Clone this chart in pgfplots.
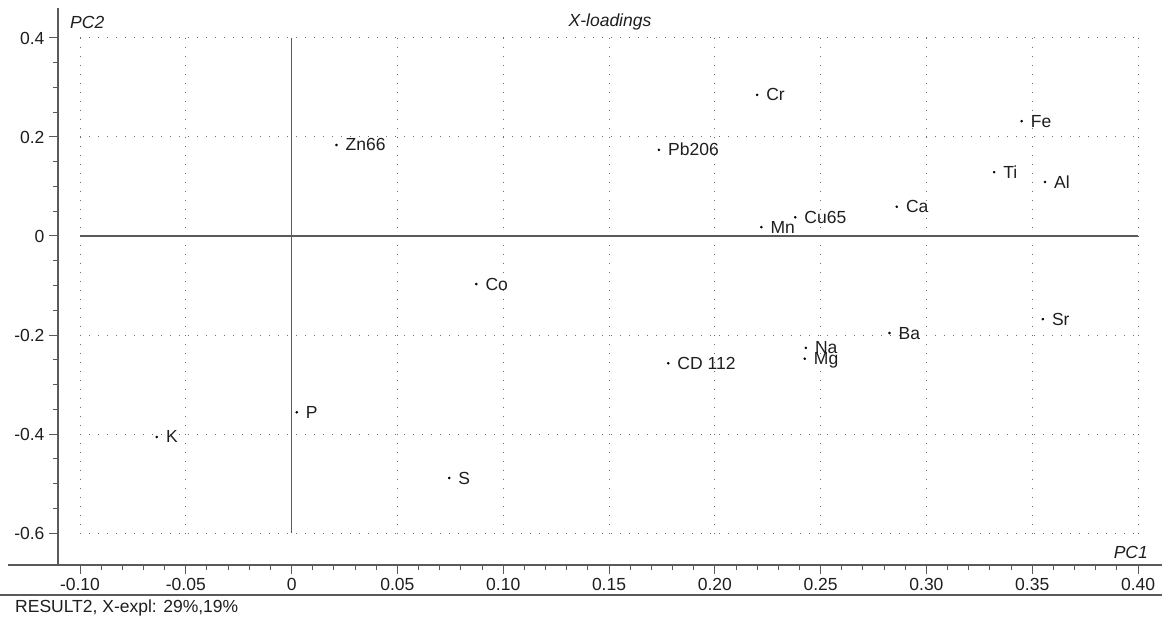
\documentclass[border=0pt]{standalone}
\usepackage{fontspec}
\setmainfont{Liberation Sans}
\usepackage{pgfplots}
\pgfplotsset{compat=1.18}

\definecolor{axisgray}{RGB}{90,90,90}
\definecolor{gridgray}{RGB}{110,110,110}
\definecolor{txt}{RGB}{30,30,30}
\newcommand{\chartfont}{\fontsize{17.5}{20}\selectfont}

\begin{document}
\begin{tikzpicture}[x=1pt,y=1pt]
\useasboundingbox (0,0) rectangle (1162,617);
\begin{axis}[
  at={(58pt,52pt)}, anchor=south west,
  scale only axis, width=1104pt, height=557pt,
  xmin=-0.1104, xmax=0.4113, ymin=-0.6646, ymax=0.4606,
  axis line style={draw=none},
  clip=false,
  tick align=outside,
  major tick length=9pt, minor tick length=5pt,
  every tick/.style={axisgray, line width=1pt},
  xtick={-0.1,-0.05,0,0.05,0.1,0.15,0.2,0.25,0.3,0.35,0.4},
  xticklabels={-0.10,-0.05,0,0.05,0.10,0.15,0.20,0.25,0.30,0.35,0.40},
  ytick={-0.6,-0.4,-0.2,0,0.2,0.4},
  yticklabels={-0.6,-0.4,-0.2,0,0.2,0.4},
  minor x tick num=4, minor y tick num=3,
  xtick pos=bottom, ytick pos=left,
  ticklabel style={font=\chartfont, text=txt},
  xticklabel style={anchor=north, yshift=-1pt},
  yticklabel style={anchor=east, xshift=-1pt},
]
% dotted grid inside the labelled range
\pgfplotsinvokeforeach{-0.1,-0.05,0.05,0.1,0.15,0.2,0.25,0.3,0.35,0.4}{
  \draw[gridgray, line width=1pt, dash pattern=on 1pt off 8pt] (axis cs:#1,0.4) -- (axis cs:#1,-0.6);
}
\pgfplotsinvokeforeach{-0.6,-0.4,-0.2,0.2,0.4}{
  \draw[gridgray, line width=1pt, dash pattern=on 1pt off 8pt] (axis cs:-0.1,#1) -- (axis cs:0.4,#1);
}
% origin lines
\draw[axisgray, line width=1.2pt] (axis cs:-0.1,0) -- (axis cs:0.4,0);
\draw[axisgray, line width=1.2pt] (axis cs:0,0.4) -- (axis cs:0,-0.6);
% axis frame lines
\draw[axisgray, line width=1.2pt] (rel axis cs:0,0) -- (rel axis cs:0,1);
\draw[axisgray, line width=1.2pt] (rel axis cs:-0.0453,0) -- (rel axis cs:1,0);

\addplot[only marks, mark=*, mark size=1.1pt, black,
  point meta=explicit symbolic, nodes near coords,
  nodes near coords style={anchor=base west, inner sep=0pt, xshift=9pt, yshift=-6pt,
    font=\chartfont, text=txt}]
coordinates {
  (0.0212,0.184) [Zn66]
  (0.1736,0.174) [Pb206]
  (0.2200,0.285) [Cr]
  (0.3450,0.232) [Fe]
  (0.3320,0.129) [Ti]
  (0.3560,0.109) [Al]
  (0.2860,0.059) [Ca]
  (0.2380,0.038) [Cu65]
  (0.2220,0.018) [Mn]
  (0.0873,-0.097) [Co]
  (0.3550,-0.168) [Sr]
  (0.2825,-0.196) [Ba]
  (0.2430,-0.226) [Na]
  (0.2425,-0.248) [Mg]
  (0.1780,-0.257) [CD 112]
  (0.0024,-0.356) [P]
  (-0.0637,-0.406) [K]
  (0.0745,-0.489) [S]
};
\end{axis}
% titles and captions around the plot area
\node[anchor=west, font=\chartfont\itshape, text=txt, inner sep=0pt] at (70,595) {PC2};
\node[font=\chartfont\itshape, text=txt, inner sep=0pt] at (610,595) {X-loadings};
\node[anchor=east, font=\chartfont\itshape, text=txt, inner sep=0pt] at (1148,65) {PC1};
\draw[axisgray, line width=1.2pt] (0,22) -- (1162,22);
\node[anchor=west, font=\chartfont, text=txt, inner sep=0pt] at (15,9) {RESULT2, X-expl: 29\%,19\%};
\end{tikzpicture}
\end{document}
